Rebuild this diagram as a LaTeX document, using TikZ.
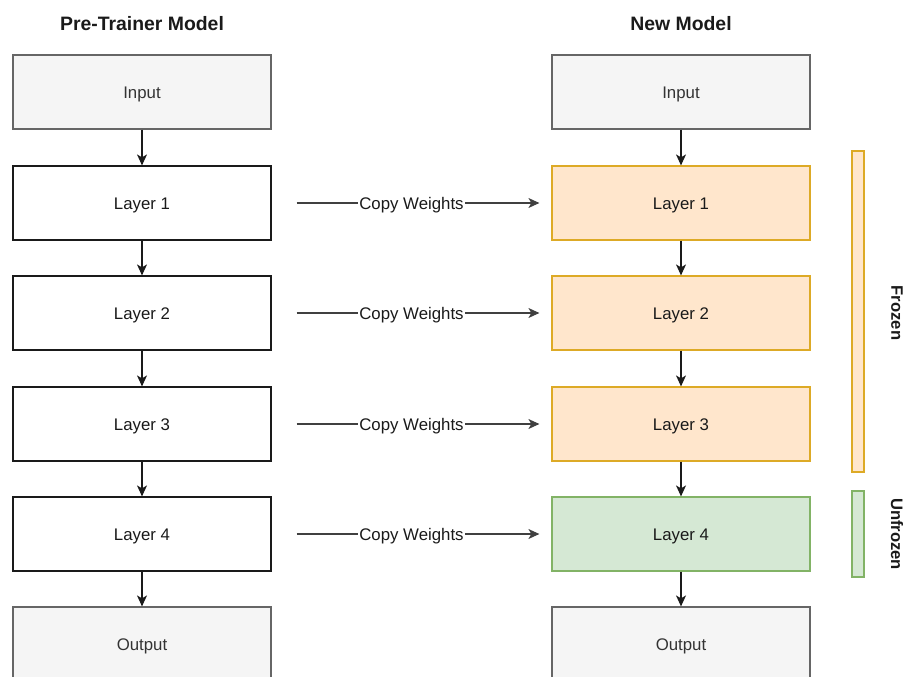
\documentclass[tikz,border=0pt]{standalone}
\usepackage{fontspec}
\setmainfont{Liberation Sans}
\usetikzlibrary{arrows.meta}
\definecolor{gfill}{HTML}{F5F5F5}
\definecolor{gdraw}{HTML}{666666}
\definecolor{gtext}{HTML}{333333}
\definecolor{ofill}{HTML}{FFE6CC}
\definecolor{odraw}{HTML}{D79B00}
\definecolor{vfill}{HTML}{D5E8D4}
\definecolor{vdraw}{HTML}{82B366}
\definecolor{ink}{HTML}{1A1A1A}
\tikzset{
  box/.style={rectangle, minimum width=258pt, minimum height=74pt, inner sep=0pt, line width=1.2pt,
    font=\fontsize{16.8pt}{20pt}\selectfont, text height=12pt, text depth=0pt, text=ink},
  grey/.style={box, fill=gfill, draw=gdraw, text=gtext},
  plain/.style={box, fill=white, draw=ink},
  frozen/.style={box, fill=ofill, draw=odraw!85!white},
  unfrozen/.style={box, fill=vfill, draw=vdraw},
  bar/.style={rectangle, minimum width=12pt, inner sep=0pt, line width=1.2pt},
  title/.style={font=\fontsize{19.4pt}{22pt}\selectfont\bfseries, text=ink},
  side/.style={font=\fontsize{16.6pt}{20pt}\selectfont\bfseries, rotate=-90, text=ink},
  flow/.style={line width=1.2pt, draw=ink, -{Stealth[length=11pt,width=10pt,inset=3pt]}},
  copy/.style={line width=1.2pt, draw=black!75, -{Stealth[length=11pt,width=10pt,inset=3pt]},
    shorten <=25pt, shorten >=12pt},
  copylbl/.style={fill=white, inner sep=1pt, text=ink, text height=12pt, text depth=0pt,
    font=\fontsize{16.8pt}{20pt}\selectfont}
}
\begin{document}
\begin{tikzpicture}[x=1pt,y=-1pt]
\useasboundingbox (0,0) rectangle (905,677);
\clip (0,0) rectangle (905,677);
\node[title] (t1) at (142,24) {Pre-Trainer Model};
\node[title] (t2) at (681,24) {New Model};
% left column
\node[grey]  (LI) at (142,92)  {Input};
\node[plain] (L1) at (142,203) {Layer 1};
\node[plain] (L2) at (142,313) {Layer 2};
\node[plain] (L3) at (142,424) {Layer 3};
\node[plain] (L4) at (142,534) {Layer 4};
\node[grey]  (LO) at (142,644) {Output};
% right column
\node[grey]     (RI) at (681,92)  {Input};
\node[frozen]   (R1) at (681,203) {Layer 1};
\node[frozen]   (R2) at (681,313) {Layer 2};
\node[frozen]   (R3) at (681,424) {Layer 3};
\node[unfrozen] (R4) at (681,534) {Layer 4};
\node[grey]     (RO) at (681,644) {Output};
% vertical flows
\draw[flow] (LI.south) -- (L1.north);
\draw[flow] (L1.south) -- (L2.north);
\draw[flow] (L2.south) -- (L3.north);
\draw[flow] (L3.south) -- (L4.north);
\draw[flow] (L4.south) -- (LO.north);
\draw[flow] (RI.south) -- (R1.north);
\draw[flow] (R1.south) -- (R2.north);
\draw[flow] (R2.south) -- (R3.north);
\draw[flow] (R3.south) -- (R4.north);
\draw[flow] (R4.south) -- (RO.north);
% copy weights
\draw[copy] (L1.east) -- node[copylbl] {Copy Weights} (R1.west);
\draw[copy] (L2.east) -- node[copylbl] {Copy Weights} (R2.west);
\draw[copy] (L3.east) -- node[copylbl] {Copy Weights} (R3.west);
\draw[copy] (L4.east) -- node[copylbl] {Copy Weights} (R4.west);
% side bars
\node[bar, minimum height=321pt, fill=ofill, draw=odraw!85!white] (fb) at (858,311.5) {};
\node[bar, minimum height=86pt, fill=vfill, draw=vdraw] (ub) at (858,534) {};
\node[side] (fl) at (897,313) {Frozen};
\node[side] (ul) at (897,534) {Unfrozen};
\end{tikzpicture}
\end{document}
